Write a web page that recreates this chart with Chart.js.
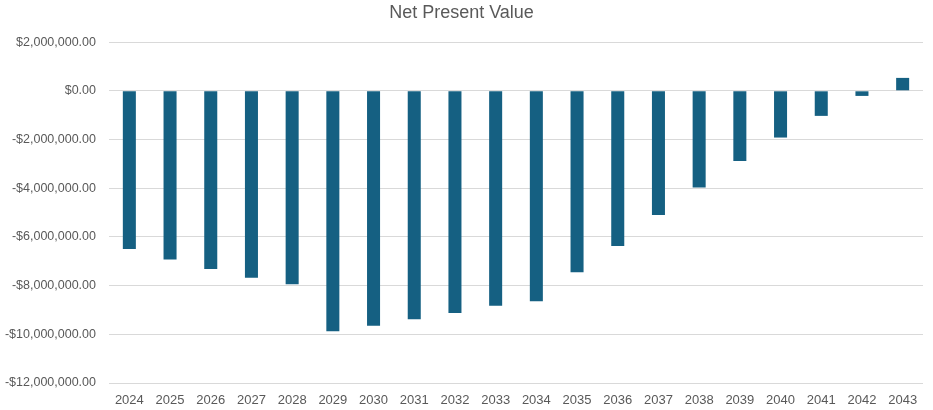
<!DOCTYPE html>
<html>
<head>
<meta charset="utf-8">
<script src="https://cdn.jsdelivr.net/npm/chart.js@4/dist/chart.umd.min.js"></script>
<style>
  html, body { margin: 0; padding: 0; background: #fff; }
  #wrap { width: 933px; height: 410px; }
</style>
</head>
<body>
<div id="wrap"><canvas id="npvChart"></canvas></div>
<script>
// chart data
var years = ['2024', '2025', '2026', '2027', '2028', '2029', '2030', '2031', '2032', '2033',
             '2034', '2035', '2036', '2037', '2038', '2039', '2040', '2041', '2042', '2043'];
var npvValues = [-6500000, -6930000, -7320000, -7680000, -7940000, -9870000, -9650000, -9380000, -9130000, -8830000,
                 -8640000, -7450000, -6370000, -5100000, -3970000, -2880000, -1920000, -1030000, -210000, 530000];
var yMin = -12000000;
var yMax = 2000000;
var yStep = 2000000;

function money(v) {
    var s = '$' + Math.abs(v).toLocaleString('en-US', { minimumFractionDigits: 2, maximumFractionDigits: 2 });
    return v < 0 ? '-' + s : s;
}

document.addEventListener("DOMContentLoaded", function () {
    const npvChart = document.getElementById('npvChart');
    new Chart(npvChart, {
        type: 'bar',
        data: {
            labels: years,
            datasets: [{
                label: 'Net Present Value',
                data: npvValues,
                backgroundColor: '#156082',
                borderWidth: 0,
                barPercentage: 0.32,
                categoryPercentage: 1
            }]
        },
        options: {
            responsive: true,
            maintainAspectRatio: false,
            animation: false,
            layout: { padding: { left: 0, right: 10, top: 2, bottom: 0 } },
            plugins: {
                legend: { display: false },
                tooltip: { enabled: false },
                title: {
                    display: true,
                    text: 'Net Present Value',
                    color: '#595959',
                    font: { family: 'Liberation Sans, Arial, sans-serif', size: 18, weight: 'normal' },
                    padding: { top: 0, bottom: 18.5 }
                }
            },
            scales: {
                x: {
                    grid: { display: false, drawTicks: false },
                    border: { display: false },
                    ticks: {
                        color: '#595959',
                        font: { family: 'Liberation Sans, Arial, sans-serif', size: 13 },
                        padding: 10,
                        maxRotation: 0
                    },
                    afterFit: function (scale) { scale.height = 27; }
                },
                y: {
                    min: yMin,
                    max: yMax,
                    grid: { color: '#d9d9d9', lineWidth: 1, drawTicks: false },
                    border: { display: false },
                    ticks: {
                        stepSize: yStep,
                        color: '#595959',
                        font: { family: 'Liberation Sans, Arial, sans-serif', size: 12.5 },
                        padding: 13,
                        callback: function (v) { return money(v); }
                    },
                    afterFit: function (scale) {
                        scale.width = 109;
                        scale.paddingTop = 0;
                        scale.paddingBottom = 0;
                    }
                }
            }
        }
    });
});
</script>
</body>
</html>
